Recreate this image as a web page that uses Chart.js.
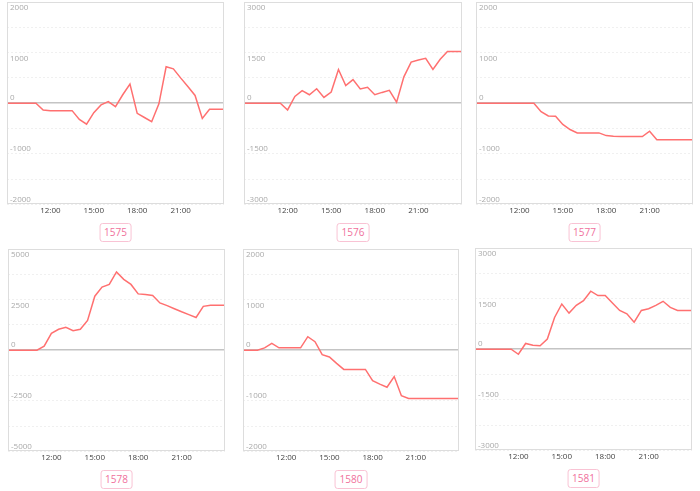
<!DOCTYPE html>
<html>
<head>
<meta charset="utf-8">
<script src="https://cdn.jsdelivr.net/npm/chart.js"></script>
<style>
  html, body { margin: 0; padding: 0; background: #fff; }
  body { width: 700px; height: 491px; position: relative; overflow: hidden; font-family: "Open Sans", sans-serif; }
  .panel { position: absolute; }
  .tag {
    position: absolute; height: 17px; line-height: 17px; padding: 0 4px;
    border: 1px solid #f9c3d4; border-radius: 3px;
    color: #f0709c; font-size: 10px; transform: translateX(-50%); background: #fff;
  }
</style>
</head>
<body>
<script>
// half-hour slots shown on every chart
var times = ['09:00','09:30','10:00','10:30','11:00','11:30','12:00','12:30','13:00','13:30',
             '14:00','14:30','15:00','15:30','16:00','16:30','17:00','17:30','18:00','18:30',
             '19:00','19:30','20:00','20:30','21:00','21:30','22:00','22:30','23:00','23:30','24:00'];
var tickLabels = ['12:00', '15:00', '18:00', '21:00'];

var names = ['1575', '1576', '1577', '1578', '1580', '1581'];

var s1575 = [0,0,0,0,0,-133,-147,-147,-147,-147,-320,-413,-187,-33,33,-67,167,380,-200,-283,-367,-13,720,680,500,330,153,-300,-120,-120,-120];
var s1576 = [0,0,0,0,0,0,-200,200,370,250,430,170,330,1000,520,700,420,470,250,320,380,30,780,1220,1280,1330,1000,1300,1530,1530,1530];
var s1577 = [0,0,0,0,0,0,0,0,0,-167,-253,-260,-420,-520,-587,-587,-587,-587,-640,-655,-660,-660,-660,-660,-553,-720,-720,-720,-720,-720,-720];
var s1578 = [0,0,0,0,0,200,833,1033,1133,967,1033,1467,2667,3117,3250,3867,3500,3250,2783,2750,2700,2333,2200,2050,1900,1760,1617,2167,2217,2217,2217];
var s1580 = [0,0,0,45,133,47,47,47,47,267,167,-87,-133,-260,-380,-380,-380,-380,-600,-670,-733,-520,-900,-953,-953,-953,-953,-953,-953,-953,-953];
var s1581 = [0,0,0,0,0,0,-150,170,120,100,300,940,1340,1070,1300,1440,1720,1590,1590,1370,1150,1050,800,1150,1200,1300,1420,1240,1150,1150,1150];

var series = [s1575, s1576, s1577, s1578, s1580, s1581];
var yMax = [2000, 3000, 2000, 5000, 2000, 3000];

// panel boxes: left, top, width, height
var boxes = [
  [5, 1, 221, 217], [242, 1, 222, 217], [474, 1, 221, 217],
  [6, 248, 221, 217], [241, 248, 220, 217], [473, 247, 221, 217]
];

// frame + inside y labels
var panelDeco = {
  id: 'panelDeco',
  afterDraw: function(chart) {
    var ctx = chart.ctx, a = chart.chartArea, y = chart.scales.y;
    ctx.save();
    ctx.strokeStyle = '#dddddd';
    ctx.lineWidth = 1;
    ctx.strokeRect(Math.round(a.left) + 0.5, Math.round(a.top) + 0.5, Math.round(a.width) - 1, Math.round(a.height) - 1);
    ctx.font = '8px "Open Sans"';
    ctx.fillStyle = '#aaaaaa';
    ctx.textAlign = 'left';
    ctx.textBaseline = 'middle';
    var step = y.options.ticks.stepSize;
    y.ticks.forEach(function(t) {
      if (Math.round(t.value / step) % 2 !== 0) return;
      var py = y.getPixelForValue(t.value) + (t.value > 0 ? 6 : -5);
      ctx.fillText(String(t.value), a.left + 3, py);
    });
    ctx.restore();
  }
};

names.forEach(function(name, k) {
  var b = boxes[k];
  var div = document.createElement('div');
  div.className = 'panel';
  div.style.left = b[0] + 'px';
  div.style.top = b[1] + 'px';
  div.style.width = b[2] + 'px';
  div.style.height = b[3] + 'px';
  var cv = document.createElement('canvas');
  div.appendChild(cv);
  document.body.appendChild(div);

  var tag = document.createElement('div');
  tag.className = 'tag';
  tag.textContent = name;
  tag.style.left = (b[0] + b[2] / 2) + 'px';
  tag.style.top = (b[1] + 222) + 'px';
  document.body.appendChild(tag);

  var max = yMax[k];
  new Chart(cv.getContext('2d'), {
    type: 'line',
    data: {
      labels: times,
      datasets: [{
        data: series[k],
        borderColor: '#ff7070',
        borderWidth: 1.5,
        pointRadius: 0,
        tension: 0,
        fill: false
      }]
    },
    options: {
      responsive: true,
      maintainAspectRatio: false,
      animation: false,
      layout: { padding: { left: 1, right: 1, top: 1 } },
      plugins: { legend: { display: false }, tooltip: { enabled: false } },
      scales: {
        x: {
          grid: { display: false, drawTicks: false },
          border: { display: false },
          ticks: {
            autoSkip: false,
            maxRotation: 0,
            padding: 2,
            color: '#444',
            font: { size: 8, family: '"Open Sans"' },
            callback: function(v, i) { return tickLabels.indexOf(times[i]) >= 0 ? times[i] : ''; }
          }
        },
        y: {
          min: -max,
          max: max,
          ticks: { display: false, stepSize: max / 4 },
          grid: {
            drawTicks: false,
            color: function(c) { return c.tick && c.tick.value === 0 ? '#c4c4c4' : '#f0f0f0'; },
            lineWidth: function(c) { return c.tick && c.tick.value === 0 ? 1.5 : 1; }
          },
          border: {
            display: false,
            dash: function(c) { return c.tick && c.tick.value === 0 ? [] : [2, 2]; }
          }
        }
      }
    },
    plugins: [panelDeco]
  });
});
</script>
</body>
</html>
